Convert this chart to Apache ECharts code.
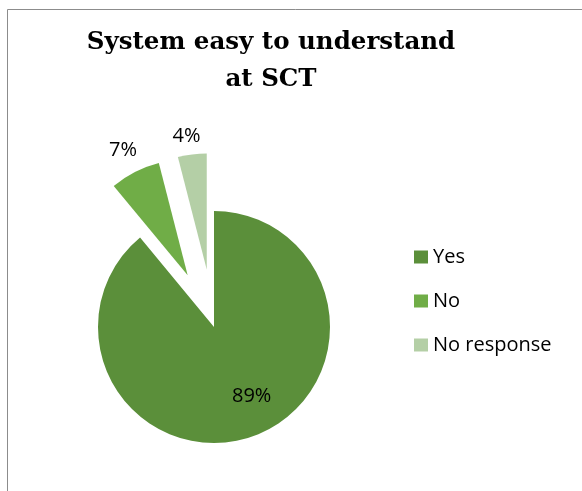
<!DOCTYPE html>
<html>
<head>
<meta charset="utf-8">
<script src="https://cdn.jsdelivr.net/npm/echarts@6/dist/echarts.min.js"></script>
<style>
  html, body { margin: 0; padding: 0; background: #ffffff; }
  #chart { width: 582px; height: 491px; }
</style>
</head>
<body>
<div id="chart"></div>
<script>
// Survey answers: share of respondents (%)
const categories = ['Yes', 'No', 'No response'];
const shares = [89, 7, 4];
const sliceColors = ['#5b8f3a', '#70ad47', '#b4cfa6'];
// the minority answers are pulled out of the pie
const pulledOut = [false, true, true];
// small nudges of the percentage labels, in pixels
const labelNudge = [[17, 12], [24, -18], [15, -4]];

const chart = echarts.init(document.getElementById('chart'), null, { renderer: 'canvas' });

const pieData = categories.map((name, i) => ({
  name: name,
  value: shares[i],
  selected: pulledOut[i],
  itemStyle: { color: sliceColors[i] },
  label: pulledOut[i]
    ? { position: 'outside' }
    : { position: 'inside' }
}));

chart.setOption({
  animation: false,
  backgroundColor: '#ffffff',
  title: {
    text: 'System easy to understand\nat SCT',
    left: 266,
    top: 19,
    textAlign: 'center',
    textStyle: {
      fontFamily: 'DejaVu Serif',
      fontWeight: 'bold',
      fontSize: 24.5,
      lineHeight: 37,
      color: '#000000'
    }
  },
  legend: {
    orient: 'vertical',
    left: 409,
    top: 242,
    itemWidth: 14,
    itemHeight: 13,
    itemGap: 24,
    icon: 'rect',
    data: categories,
    selectedMode: false,
    textStyle: {
      fontFamily: 'Open Sans',
      fontSize: 20,
      lineHeight: 20,
      color: '#000000'
    }
  },
  graphic: [{
    type: 'rect',
    shape: { x: 7.5, y: 9.5, width: 700, height: 700 },
    style: { fill: 'none', stroke: '#8c8c8c', lineWidth: 1 },
    silent: true
  }],
  series: [{
    type: 'pie',
    center: [214, 327],
    radius: 116,
    startAngle: 90,
    clockwise: true,
    selectedMode: 'multiple',
    selectedOffset: 58,
    emphasis: { disabled: true },
    itemStyle: { borderWidth: 0 },
    label: {
      show: true,
      formatter: '{c}%',
      fontFamily: 'Open Sans',
      fontSize: 20,
      color: '#000000'
    },
    labelLine: { show: false, length: 14, length2: 0 },
    labelLayout: function (params) {
      const n = labelNudge[params.dataIndex];
      return { dx: n[0], dy: n[1] };
    },
    data: pieData
  }]
});
</script>
</body>
</html>
